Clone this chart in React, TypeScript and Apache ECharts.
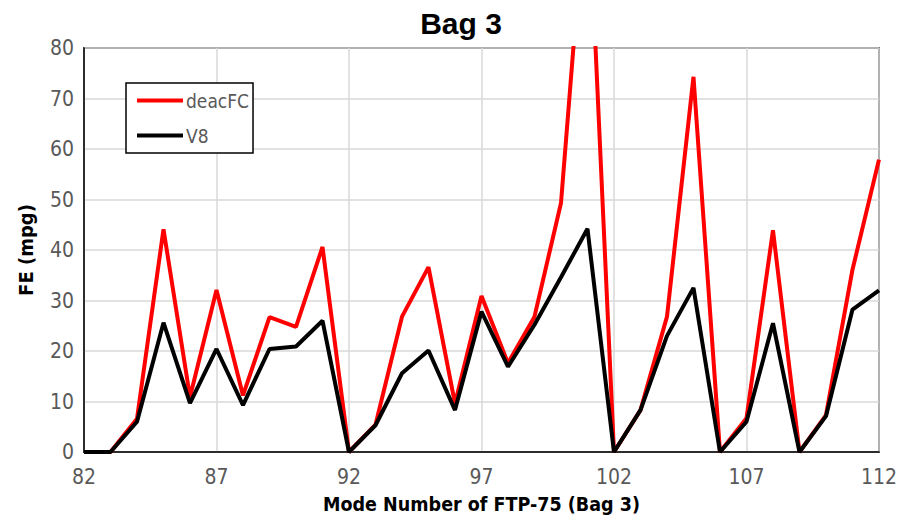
import React, { useEffect, useRef } from "react";
import * as echarts from "echarts";

const modes = [82, 83, 84, 85, 86, 87, 88, 89, 90, 91, 92, 93, 94, 95, 96, 97, 98, 99, 100, 101, 102, 103, 104, 105, 106, 107, 108, 109, 110, 111, 112];
const deacFC = [0, 0, 6.6, 44.1, 10.9, 32.1, 11.2, 26.7, 24.8, 40.6, 0, 5.4, 26.8, 36.6, 9.6, 30.9, 17.6, 26.8, 49.3, 115, 0, 8.3, 26.8, 74.3, 0, 6.7, 43.9, 0, 7.3, 36.1, 57.9];
const v8 = [0, 0, 6.0, 25.6, 9.7, 20.4, 9.3, 20.4, 20.9, 26.0, 0, 5.3, 15.6, 20.1, 8.3, 27.8, 16.9, 25.2, 34.6, 44.2, 0, 8.3, 23.0, 32.5, 0, 6.0, 25.5, 0, 7.1, 28.2, 32.0];
const seriesNames = ["deacFC", "V8"];
const chartTitle = "Bag 3";
const xTitle = "Mode Number of FTP-75 (Bag 3)";
const yTitle = "FE (mpg)";

const narrow = "'Liberation Sans Narrow', 'Arial Narrow', 'DejaVu Sans Condensed', sans-serif";

export default function App() {
  const ref = useRef<HTMLDivElement>(null);
  useEffect(() => {
    if (!ref.current) return;
    const chart = echarts.init(ref.current, null, { renderer: "svg" });
    const pairs = (ys: number[]) => modes.map((m, i) => [m, ys[i]]);
    chart.setOption({
      animation: false,
      backgroundColor: "#ffffff",
      graphic: [
        {
          type: "text",
          x: 461,
          y: 8,
          style: {
            text: chartTitle,
            fill: "#000",
            font: "bold 30px 'Liberation Sans', Arial, sans-serif",
            textAlign: "center",
          },
        },
      ],
      grid: {
        left: 84,
        right: 21,
        top: 48,
        bottom: 67,
        show: true,
        borderColor: "#000",
        borderWidth: 1.5,
        containLabel: false,
      },
      legend: {
        orient: "vertical",
        left: 126,
        top: 83,
        padding: [8, 4, 8, 11],
        itemGap: 16,
        itemWidth: 46,
        itemHeight: 4,
        icon: "rect",
        borderColor: "#000",
        borderWidth: 1.5,
        backgroundColor: "#fff",
        textStyle: { color: "#595959", fontSize: 19, fontFamily: narrow, padding: [0, 0, 0, -2] },
        data: seriesNames,
      },
      xAxis: {
        type: "value",
        min: 82,
        max: 112,
        interval: 5,
        name: xTitle,
        nameLocation: "middle",
        nameGap: 42,
        nameTextStyle: { fontSize: 19.5, fontWeight: "bold", color: "#000", fontFamily: narrow },
        axisLine: { show: true, lineStyle: { color: "#000", width: 1.5 } },
        axisTick: { show: false },
        axisLabel: { color: "#595959", fontSize: 21, fontFamily: narrow, margin: 14 },
        splitLine: { show: true, lineStyle: { color: "#d9d9d9", width: 1.5 } },
      },
      yAxis: {
        type: "value",
        min: 0,
        max: 80,
        interval: 10,
        name: yTitle,
        nameLocation: "middle",
        nameGap: 48,
        nameTextStyle: { fontSize: 20, fontWeight: "bold", color: "#000", fontFamily: narrow },
        axisLine: { show: true, lineStyle: { color: "#000", width: 1.5 } },
        axisTick: { show: false },
        axisLabel: { color: "#595959", fontSize: 21, fontFamily: narrow, margin: 10 },
        splitLine: { show: true, lineStyle: { color: "#d9d9d9", width: 1.5 } },
      },
      series: [
        {
          name: seriesNames[0],
          type: "line",
          data: pairs(deacFC),
          showSymbol: false,
          symbol: "none",
          clip: true,
          lineStyle: { color: "#ff0000", width: 4 },
          itemStyle: { color: "#ff0000" },
        },
        {
          name: seriesNames[1],
          type: "line",
          data: pairs(v8),
          showSymbol: false,
          symbol: "none",
          clip: true,
          lineStyle: { color: "#000000", width: 4 },
          itemStyle: { color: "#000000" },
        },
      ],
    });
    return () => chart.dispose();
  }, []);
  return <div ref={ref} style={{ width: 900, height: 519, position: "absolute", left: 0, top: 0 }} />;
}
